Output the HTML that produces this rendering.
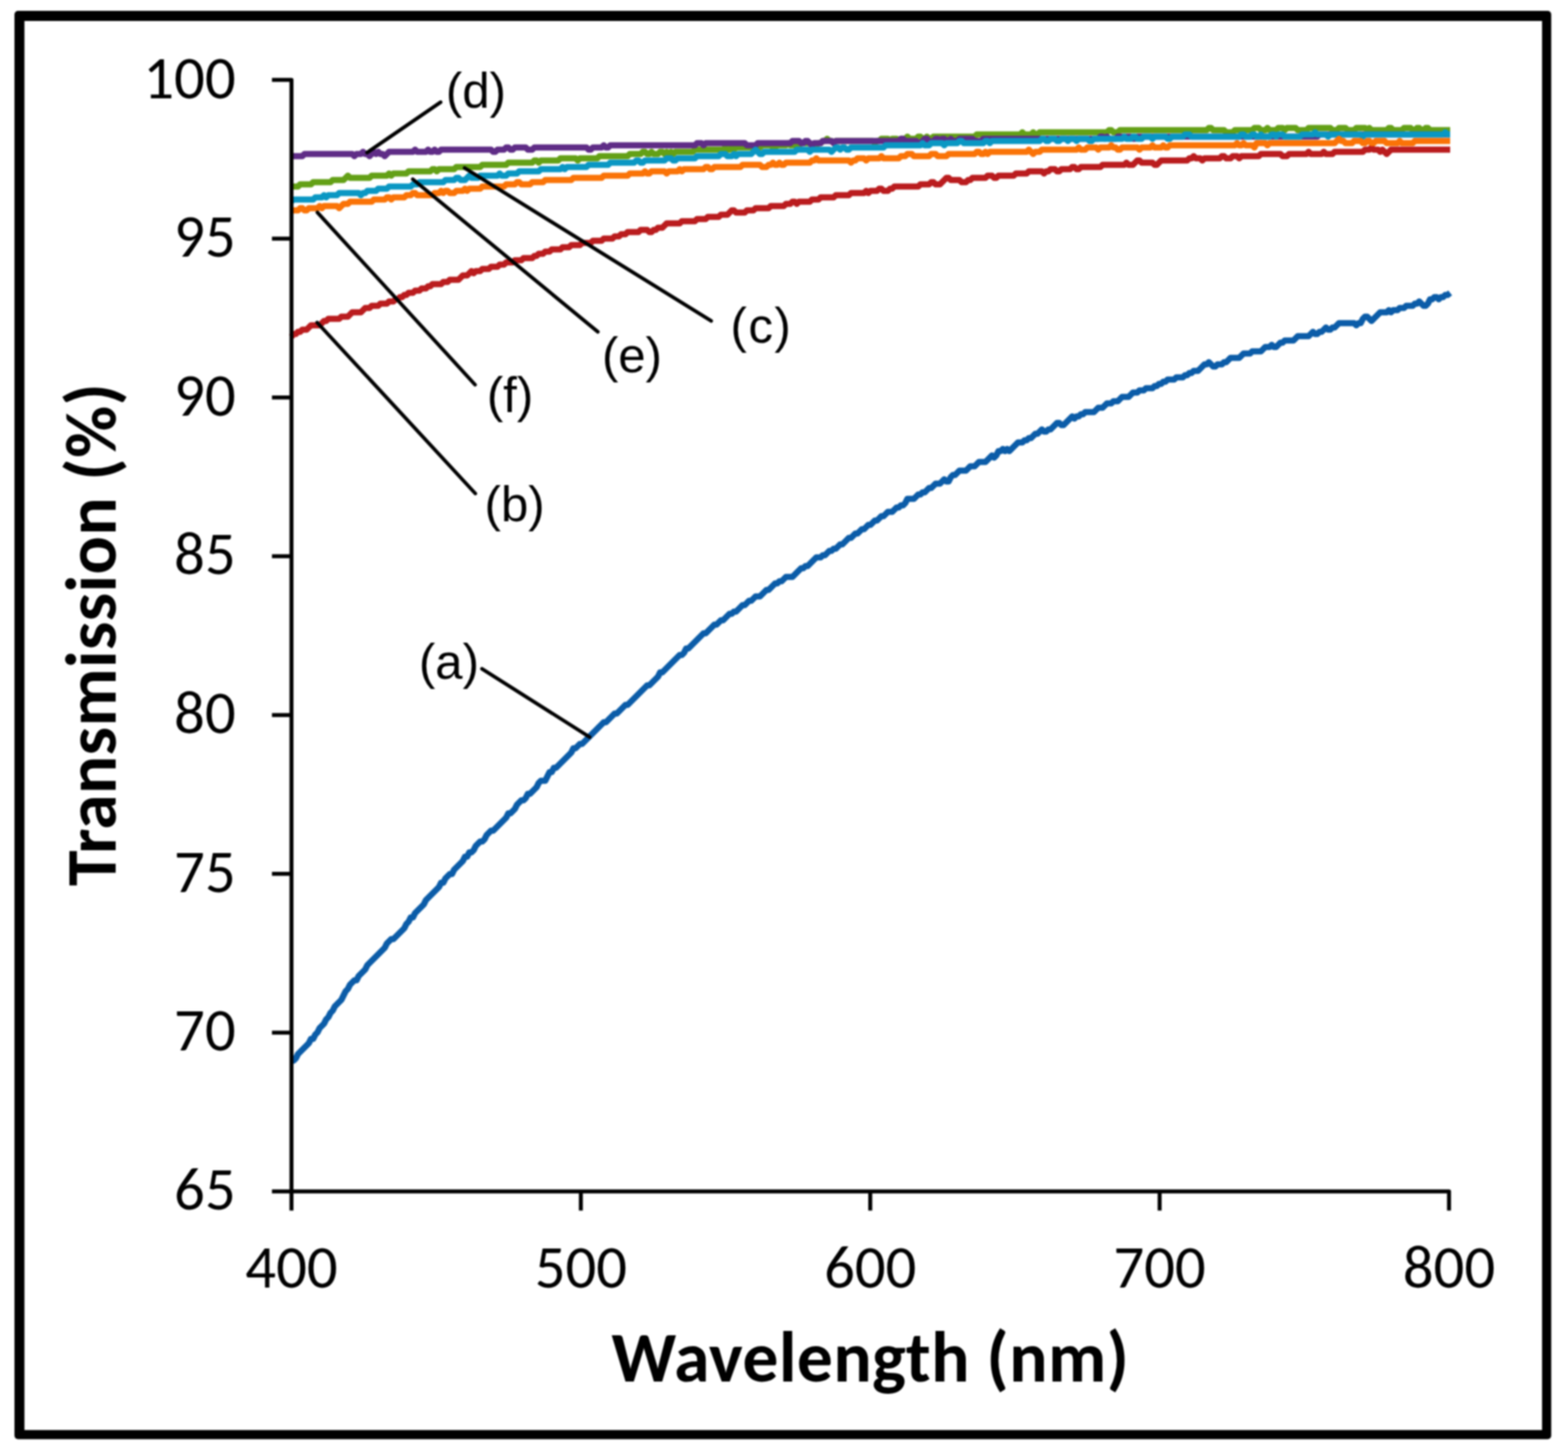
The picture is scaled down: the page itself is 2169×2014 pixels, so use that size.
<!DOCTYPE html>
<html><head><meta charset="utf-8"><title>Transmission vs Wavelength</title>
<style>html,body{margin:0;padding:0;background:#fff;}body{width:2169px;height:2014px;overflow:hidden;}svg{display:block;filter:blur(1px);}</style></head><body>
<svg xmlns="http://www.w3.org/2000/svg" width="2169" height="2014" viewBox="0 0 2169 2014">
<rect x="0" y="0" width="2169" height="2014" fill="#fff"/>
<rect x="20" y="15" width="2125.8" height="1975.8" rx="5" fill="#000"/>
<rect x="33.8" y="29" width="2099.3" height="1949.1" fill="#fff"/>
<path d="M403.2,1467.7L406.2,1467.0L409.2,1464.0L412.2,1458.0L415.2,1455.0L418.2,1452.0L421.2,1449.0L424.2,1446.0L427.2,1443.0L430.2,1437.0L433.2,1437.0L436.2,1431.0L439.2,1428.0L442.2,1422.0L445.2,1419.0L448.2,1416.0L451.2,1410.0L454.2,1407.0L457.2,1401.0L460.2,1398.0L463.2,1392.0L466.2,1389.0L469.2,1386.0L472.2,1383.0L475.2,1377.0L478.2,1371.0L481.2,1368.0L484.2,1362.0L487.2,1359.0L490.2,1356.0L493.2,1356.0L496.2,1350.0L499.2,1347.0L502.2,1344.0L505.2,1341.0L508.2,1335.0L511.2,1332.0L514.2,1329.0L517.2,1326.0L520.2,1323.0L523.2,1320.0L526.2,1317.0L529.2,1314.0L532.2,1311.0L535.2,1305.0L538.2,1302.0L541.2,1299.0L544.2,1299.0L547.2,1296.0L550.2,1293.0L553.2,1290.0L556.2,1287.0L559.2,1284.0L562.2,1278.0L565.2,1275.0L568.2,1269.0L571.2,1269.0L574.2,1263.0L577.2,1260.0L580.2,1257.0L583.2,1254.0L586.2,1251.0L589.2,1245.0L592.2,1242.0L595.2,1239.0L598.2,1236.0L601.2,1233.0L604.2,1230.0L607.2,1227.0L610.2,1221.0L613.2,1221.0L616.2,1215.0L619.2,1212.0L622.2,1209.0L625.2,1209.0L628.2,1203.0L631.2,1200.0L634.2,1197.0L637.2,1194.0L640.2,1191.0L643.2,1185.0L646.2,1185.0L649.2,1179.0L652.2,1179.0L655.2,1176.0L658.2,1170.0L661.2,1167.0L664.2,1164.0L667.2,1164.0L670.2,1161.0L673.2,1155.0L676.2,1152.0L679.2,1149.0L682.2,1149.0L685.2,1146.0L688.2,1143.0L691.2,1140.0L694.2,1137.0L697.2,1134.0L700.2,1131.0L703.2,1125.0L706.2,1125.0L709.2,1122.0L712.2,1119.0L715.2,1113.0L718.2,1110.0L721.2,1107.0L724.2,1107.0L727.2,1104.0L730.2,1098.0L733.2,1098.0L736.2,1095.0L739.2,1092.0L742.2,1089.0L745.2,1083.0L748.2,1080.0L751.2,1080.0L754.2,1080.0L757.2,1074.0L760.2,1068.0L763.2,1068.0L766.2,1062.0L769.2,1062.0L772.2,1059.0L775.2,1056.0L778.2,1053.0L781.2,1050.0L784.2,1047.0L787.2,1044.0L790.2,1041.0L793.2,1035.0L796.2,1035.0L799.2,1032.0L802.2,1029.0L805.2,1029.0L808.2,1026.0L811.2,1023.0L814.2,1020.0L817.2,1017.0L820.2,1014.0L823.2,1011.0L826.2,1008.0L829.2,1005.0L832.2,1002.0L835.2,999.0L838.2,999.0L841.2,996.0L844.2,993.0L847.2,990.0L850.2,987.0L853.2,987.0L856.2,984.0L859.2,981.0L862.2,978.0L865.2,975.0L868.2,975.0L871.2,972.0L874.2,969.0L877.2,966.0L880.2,963.0L883.2,960.0L886.2,957.0L889.2,954.0L892.2,951.0L895.2,948.0L898.2,948.0L901.2,945.0L904.2,942.0L907.2,939.0L910.2,936.0L913.2,930.0L916.2,930.0L919.2,927.0L922.2,924.0L925.2,921.0L928.2,918.0L931.2,915.0L934.2,912.0L937.2,909.0L940.2,906.0L943.2,906.0L946.2,903.0L949.2,897.0L952.2,897.0L955.2,894.0L958.2,891.0L961.2,888.0L964.2,885.0L967.2,882.0L970.2,879.0L973.2,876.0L976.2,876.0L979.2,873.0L982.2,870.0L985.2,867.0L988.2,864.0L991.2,864.0L994.2,861.0L997.2,858.0L1000.2,858.0L1003.2,855.0L1006.2,852.0L1009.2,849.0L1012.2,849.0L1015.2,846.0L1018.2,846.0L1021.2,843.0L1024.2,840.0L1027.2,837.0L1030.2,837.0L1033.2,834.0L1036.2,831.0L1039.2,831.0L1042.2,828.0L1045.2,825.0L1048.2,825.0L1051.2,825.0L1054.2,822.0L1057.2,819.0L1060.2,816.0L1063.2,816.0L1066.2,813.0L1069.2,810.0L1072.2,807.0L1075.2,807.0L1078.2,804.0L1081.2,804.0L1084.2,801.0L1087.2,798.0L1090.2,798.0L1093.2,798.0L1096.2,798.0L1099.2,795.0L1102.2,792.0L1105.2,789.0L1108.2,786.0L1111.2,786.0L1114.2,783.0L1117.2,783.0L1120.2,780.0L1123.2,777.0L1126.2,774.0L1129.2,771.0L1132.2,771.0L1135.2,771.0L1138.2,768.0L1141.2,768.0L1144.2,765.0L1147.2,762.0L1150.2,762.0L1153.2,759.0L1156.2,759.0L1159.2,756.0L1162.2,753.0L1165.2,753.0L1168.2,750.0L1171.2,747.0L1174.2,744.0L1177.2,744.0L1180.2,741.0L1183.2,738.0L1186.2,738.0L1189.2,735.0L1192.2,732.0L1195.2,732.0L1198.2,729.0L1201.2,726.0L1204.2,726.0L1207.2,723.0L1210.2,720.0L1213.2,720.0L1216.2,717.0L1219.2,714.0L1222.2,714.0L1225.2,711.0L1228.2,708.0L1231.2,708.0L1234.2,708.0L1237.2,705.0L1240.2,702.0L1243.2,702.0L1246.2,699.0L1249.2,699.0L1252.2,696.0L1255.2,690.0L1258.2,690.0L1261.2,690.0L1264.2,690.0L1267.2,687.0L1270.2,684.0L1273.2,684.0L1276.2,681.0L1279.2,681.0L1282.2,678.0L1285.2,675.0L1288.2,675.0L1291.2,672.0L1294.2,669.0L1297.2,669.0L1300.2,669.0L1303.2,666.0L1306.2,663.0L1309.2,666.0L1312.2,666.0L1315.2,660.0L1318.2,657.0L1321.2,657.0L1324.2,654.0L1327.2,651.0L1330.2,651.0L1333.2,651.0L1336.2,651.0L1339.2,648.0L1342.2,645.0L1345.2,645.0L1348.2,645.0L1351.2,642.0L1354.2,639.0L1357.2,639.0L1360.2,639.0L1363.2,639.0L1366.2,636.0L1369.2,633.0L1372.2,630.0L1375.2,633.0L1378.2,630.0L1381.2,624.0L1384.2,624.0L1387.2,621.0L1390.2,624.0L1393.2,621.0L1396.2,624.0L1399.2,621.0L1402.2,618.0L1405.2,615.0L1408.2,612.0L1411.2,612.0L1414.2,612.0L1417.2,609.0L1420.2,609.0L1423.2,606.0L1426.2,606.0L1429.2,603.0L1432.2,600.0L1435.2,600.0L1438.2,597.0L1441.2,594.0L1444.2,597.0L1447.2,597.0L1450.2,594.0L1453.2,594.0L1456.2,591.0L1459.2,588.0L1462.2,585.0L1465.2,585.0L1468.2,588.0L1471.2,588.0L1474.2,585.0L1477.2,582.0L1480.2,579.0L1483.2,576.0L1486.2,579.0L1489.2,576.0L1492.2,576.0L1495.2,573.0L1498.2,573.0L1501.2,570.0L1504.2,570.0L1507.2,570.0L1510.2,570.0L1513.2,570.0L1516.2,567.0L1519.2,564.0L1522.2,564.0L1525.2,564.0L1528.2,561.0L1531.2,558.0L1534.2,558.0L1537.2,558.0L1540.2,555.0L1543.2,555.0L1546.2,555.0L1549.2,552.0L1552.2,549.0L1555.2,549.0L1558.2,549.0L1561.2,549.0L1564.2,546.0L1567.2,543.0L1570.2,543.0L1573.2,543.0L1576.2,540.0L1579.2,540.0L1582.2,540.0L1585.2,537.0L1588.2,537.0L1591.2,537.0L1594.2,537.0L1597.2,534.0L1600.2,534.0L1603.2,531.0L1606.2,531.0L1609.2,528.0L1612.2,528.0L1615.2,525.0L1618.2,525.0L1621.2,525.0L1624.2,525.0L1627.2,522.0L1630.2,522.0L1633.2,522.0L1636.2,522.0L1639.2,519.0L1642.2,519.0L1645.2,516.0L1648.2,516.0L1651.2,513.0L1654.2,513.0L1657.2,513.0L1660.2,510.0L1663.2,507.0L1666.2,504.0L1669.2,504.0L1672.2,501.0L1675.2,504.0L1678.2,507.0L1681.2,507.0L1684.2,504.0L1687.2,504.0L1690.2,504.0L1693.2,501.0L1696.2,501.0L1699.2,498.0L1702.2,495.0L1705.2,495.0L1708.2,495.0L1711.2,495.0L1714.2,495.0L1717.2,492.0L1720.2,489.0L1723.2,489.0L1726.2,489.0L1729.2,489.0L1732.2,486.0L1735.2,486.0L1738.2,486.0L1741.2,486.0L1744.2,486.0L1747.2,483.0L1750.2,480.0L1753.2,480.0L1756.2,480.0L1759.2,477.0L1762.2,480.0L1765.2,480.0L1768.2,477.0L1771.2,474.0L1774.2,474.0L1777.2,471.0L1780.2,471.0L1783.2,471.0L1786.2,471.0L1789.2,471.0L1792.2,468.0L1795.2,465.0L1798.2,465.0L1801.2,465.0L1804.2,465.0L1807.2,465.0L1810.2,465.0L1813.2,462.0L1816.2,459.0L1819.2,462.0L1822.2,462.0L1825.2,459.0L1828.2,459.0L1831.2,456.0L1834.2,453.0L1837.2,456.0L1840.2,456.0L1843.2,453.0L1846.2,453.0L1849.2,450.0L1852.2,447.0L1855.2,447.0L1858.2,447.0L1861.2,447.0L1864.2,447.0L1867.2,447.0L1870.2,447.0L1873.2,447.0L1876.2,450.0L1879.2,447.0L1882.2,447.0L1885.2,441.0L1888.2,438.0L1891.2,438.0L1894.2,441.0L1897.2,444.0L1900.2,441.0L1903.2,438.0L1906.2,435.0L1909.2,432.0L1912.2,432.0L1915.2,432.0L1918.2,432.0L1921.2,429.0L1924.2,432.0L1927.2,429.0L1930.2,429.0L1933.2,429.0L1936.2,426.0L1939.2,426.0L1942.2,426.0L1945.2,423.0L1948.2,423.0L1951.2,423.0L1954.2,423.0L1957.2,420.0L1960.2,420.0L1963.2,417.0L1966.2,420.0L1969.2,423.0L1972.2,423.0L1975.2,420.0L1978.2,414.0L1981.2,414.0L1984.2,411.0L1987.2,411.0L1990.2,414.0L1993.2,411.0L1996.2,411.0L1999.2,408.0L2002.2,408.0L2006.0,405.0" fill="none" stroke="#0B5CA8" stroke-width="8.6" stroke-linejoin="round" stroke-linecap="butt"/>
<path d="M403.2,465.9L406.2,462.0L409.2,462.0L412.2,459.0L415.2,459.0L418.2,456.0L421.2,456.0L424.2,456.0L427.2,453.0L430.2,450.0L433.2,450.0L436.2,450.0L439.2,450.0L442.2,450.0L445.2,447.0L448.2,444.0L451.2,444.0L454.2,441.0L457.2,441.0L460.2,441.0L463.2,441.0L466.2,441.0L469.2,441.0L472.2,438.0L475.2,438.0L478.2,438.0L481.2,438.0L484.2,435.0L487.2,432.0L490.2,432.0L493.2,432.0L496.2,432.0L499.2,432.0L502.2,429.0L505.2,426.0L508.2,426.0L511.2,426.0L514.2,423.0L517.2,423.0L520.2,423.0L523.2,423.0L526.2,420.0L529.2,420.0L532.2,420.0L535.2,420.0L538.2,417.0L541.2,417.0L544.2,417.0L547.2,414.0L550.2,414.0L553.2,411.0L556.2,411.0L559.2,408.0L562.2,408.0L565.2,405.0L568.2,405.0L571.2,405.0L574.2,402.0L577.2,402.0L580.2,402.0L583.2,399.0L586.2,399.0L589.2,399.0L592.2,396.0L595.2,396.0L598.2,393.0L601.2,393.0L604.2,393.0L607.2,393.0L610.2,393.0L613.2,390.0L616.2,390.0L619.2,390.0L622.2,387.0L625.2,387.0L628.2,387.0L631.2,387.0L634.2,387.0L637.2,384.0L640.2,381.0L643.2,381.0L646.2,381.0L649.2,378.0L652.2,375.0L655.2,378.0L658.2,375.0L661.2,375.0L664.2,375.0L667.2,372.0L670.2,372.0L673.2,372.0L676.2,372.0L679.2,369.0L682.2,369.0L685.2,369.0L688.2,369.0L691.2,366.0L694.2,366.0L697.2,366.0L700.2,363.0L703.2,363.0L706.2,363.0L709.2,363.0L712.2,360.0L715.2,360.0L718.2,360.0L721.2,360.0L724.2,357.0L727.2,357.0L730.2,357.0L733.2,357.0L736.2,357.0L739.2,354.0L742.2,354.0L745.2,351.0L748.2,351.0L751.2,351.0L754.2,348.0L757.2,348.0L760.2,348.0L763.2,345.0L766.2,345.0L769.2,345.0L772.2,345.0L775.2,345.0L778.2,342.0L781.2,342.0L784.2,342.0L787.2,342.0L790.2,339.0L793.2,339.0L796.2,339.0L799.2,339.0L802.2,339.0L805.2,336.0L808.2,336.0L811.2,336.0L814.2,336.0L817.2,336.0L820.2,333.0L823.2,333.0L826.2,333.0L829.2,333.0L832.2,333.0L835.2,330.0L838.2,330.0L841.2,330.0L844.2,330.0L847.2,330.0L850.2,327.0L853.2,327.0L856.2,327.0L859.2,324.0L862.2,324.0L865.2,324.0L868.2,321.0L871.2,321.0L874.2,321.0L877.2,321.0L880.2,321.0L883.2,321.0L886.2,318.0L889.2,318.0L892.2,318.0L895.2,318.0L898.2,321.0L901.2,321.0L904.2,318.0L907.2,318.0L910.2,315.0L913.2,315.0L916.2,315.0L919.2,312.0L922.2,309.0L925.2,309.0L928.2,309.0L931.2,309.0L934.2,309.0L937.2,309.0L940.2,309.0L943.2,306.0L946.2,306.0L949.2,306.0L952.2,306.0L955.2,306.0L958.2,306.0L961.2,306.0L964.2,303.0L967.2,303.0L970.2,303.0L973.2,303.0L976.2,303.0L979.2,300.0L982.2,300.0L985.2,300.0L988.2,300.0L991.2,300.0L994.2,300.0L997.2,297.0L1000.2,297.0L1003.2,297.0L1006.2,297.0L1009.2,294.0L1012.2,291.0L1015.2,291.0L1018.2,294.0L1021.2,294.0L1024.2,294.0L1027.2,294.0L1030.2,294.0L1033.2,291.0L1036.2,291.0L1039.2,291.0L1042.2,291.0L1045.2,288.0L1048.2,288.0L1051.2,288.0L1054.2,288.0L1057.2,288.0L1060.2,288.0L1063.2,288.0L1066.2,285.0L1069.2,285.0L1072.2,285.0L1075.2,285.0L1078.2,285.0L1081.2,285.0L1084.2,285.0L1087.2,282.0L1090.2,282.0L1093.2,282.0L1096.2,279.0L1099.2,279.0L1102.2,282.0L1105.2,279.0L1108.2,279.0L1111.2,279.0L1114.2,279.0L1117.2,279.0L1120.2,279.0L1123.2,276.0L1126.2,276.0L1129.2,276.0L1132.2,276.0L1135.2,273.0L1138.2,273.0L1141.2,273.0L1144.2,273.0L1147.2,273.0L1150.2,273.0L1153.2,273.0L1156.2,270.0L1159.2,270.0L1162.2,270.0L1165.2,270.0L1168.2,270.0L1171.2,270.0L1174.2,270.0L1177.2,267.0L1180.2,267.0L1183.2,267.0L1186.2,267.0L1189.2,267.0L1192.2,267.0L1195.2,267.0L1198.2,264.0L1201.2,267.0L1204.2,264.0L1207.2,264.0L1210.2,264.0L1213.2,264.0L1216.2,261.0L1219.2,261.0L1222.2,264.0L1225.2,264.0L1228.2,264.0L1231.2,261.0L1234.2,261.0L1237.2,258.0L1240.2,258.0L1243.2,258.0L1246.2,258.0L1249.2,258.0L1252.2,258.0L1255.2,258.0L1258.2,258.0L1261.2,258.0L1264.2,258.0L1267.2,258.0L1270.2,258.0L1273.2,255.0L1276.2,255.0L1279.2,255.0L1282.2,255.0L1285.2,255.0L1288.2,252.0L1291.2,252.0L1294.2,255.0L1297.2,255.0L1300.2,255.0L1303.2,252.0L1306.2,249.0L1309.2,246.0L1312.2,246.0L1315.2,249.0L1318.2,249.0L1321.2,249.0L1324.2,249.0L1327.2,249.0L1330.2,252.0L1333.2,252.0L1336.2,252.0L1339.2,249.0L1342.2,249.0L1345.2,246.0L1348.2,246.0L1351.2,246.0L1354.2,246.0L1357.2,246.0L1360.2,246.0L1363.2,246.0L1366.2,243.0L1369.2,243.0L1372.2,243.0L1375.2,246.0L1378.2,246.0L1381.2,243.0L1384.2,243.0L1387.2,243.0L1390.2,243.0L1393.2,243.0L1396.2,243.0L1399.2,243.0L1402.2,243.0L1405.2,240.0L1408.2,240.0L1411.2,240.0L1414.2,240.0L1417.2,240.0L1420.2,240.0L1423.2,237.0L1426.2,237.0L1429.2,237.0L1432.2,237.0L1435.2,237.0L1438.2,237.0L1441.2,237.0L1444.2,240.0L1447.2,237.0L1450.2,237.0L1453.2,234.0L1456.2,234.0L1459.2,234.0L1462.2,237.0L1465.2,237.0L1468.2,234.0L1471.2,234.0L1474.2,234.0L1477.2,234.0L1480.2,234.0L1483.2,231.0L1486.2,231.0L1489.2,234.0L1492.2,234.0L1495.2,231.0L1498.2,231.0L1501.2,231.0L1504.2,231.0L1507.2,231.0L1510.2,231.0L1513.2,231.0L1516.2,231.0L1519.2,231.0L1522.2,231.0L1525.2,228.0L1528.2,228.0L1531.2,228.0L1534.2,228.0L1537.2,228.0L1540.2,228.0L1543.2,228.0L1546.2,228.0L1549.2,228.0L1552.2,228.0L1555.2,228.0L1558.2,225.0L1561.2,228.0L1564.2,228.0L1567.2,228.0L1570.2,225.0L1573.2,222.0L1576.2,222.0L1579.2,225.0L1582.2,225.0L1585.2,225.0L1588.2,225.0L1591.2,225.0L1594.2,225.0L1597.2,228.0L1600.2,228.0L1603.2,225.0L1606.2,222.0L1609.2,222.0L1612.2,222.0L1615.2,222.0L1618.2,222.0L1621.2,222.0L1624.2,222.0L1627.2,222.0L1630.2,222.0L1633.2,222.0L1636.2,222.0L1639.2,222.0L1642.2,222.0L1645.2,219.0L1648.2,219.0L1651.2,216.0L1654.2,219.0L1657.2,219.0L1660.2,219.0L1663.2,222.0L1666.2,219.0L1669.2,219.0L1672.2,219.0L1675.2,219.0L1678.2,219.0L1681.2,219.0L1684.2,219.0L1687.2,219.0L1690.2,216.0L1693.2,216.0L1696.2,219.0L1699.2,219.0L1702.2,219.0L1705.2,216.0L1708.2,216.0L1711.2,216.0L1714.2,219.0L1717.2,216.0L1720.2,216.0L1723.2,216.0L1726.2,216.0L1729.2,216.0L1732.2,216.0L1735.2,216.0L1738.2,216.0L1741.2,216.0L1744.2,213.0L1747.2,213.0L1750.2,213.0L1753.2,213.0L1756.2,213.0L1759.2,213.0L1762.2,213.0L1765.2,213.0L1768.2,213.0L1771.2,213.0L1774.2,216.0L1777.2,216.0L1780.2,216.0L1783.2,213.0L1786.2,213.0L1789.2,213.0L1792.2,213.0L1795.2,213.0L1798.2,213.0L1801.2,213.0L1804.2,213.0L1807.2,213.0L1810.2,210.0L1813.2,213.0L1816.2,213.0L1819.2,213.0L1822.2,213.0L1825.2,213.0L1828.2,213.0L1831.2,210.0L1834.2,213.0L1837.2,213.0L1840.2,213.0L1843.2,213.0L1846.2,210.0L1849.2,210.0L1852.2,210.0L1855.2,210.0L1858.2,210.0L1861.2,210.0L1864.2,210.0L1867.2,210.0L1870.2,210.0L1873.2,210.0L1876.2,210.0L1879.2,210.0L1882.2,210.0L1885.2,210.0L1888.2,207.0L1891.2,207.0L1894.2,207.0L1897.2,204.0L1900.2,207.0L1903.2,207.0L1906.2,207.0L1909.2,210.0L1912.2,207.0L1915.2,210.0L1918.2,213.0L1921.2,210.0L1924.2,207.0L1927.2,207.0L1930.2,207.0L1933.2,207.0L1936.2,207.0L1939.2,207.0L1942.2,207.0L1945.2,207.0L1948.2,207.0L1951.2,207.0L1954.2,207.0L1957.2,207.0L1960.2,207.0L1963.2,207.0L1966.2,207.0L1969.2,207.0L1972.2,207.0L1975.2,207.0L1978.2,207.0L1981.2,207.0L1984.2,207.0L1987.2,207.0L1990.2,207.0L1993.2,207.0L1996.2,207.0L1999.2,207.0L2002.2,207.0L2006.0,207.0" fill="none" stroke="#BA1C1E" stroke-width="8.6" stroke-linejoin="round" stroke-linecap="butt"/>
<path d="M403.2,258.0L406.2,258.0L409.2,258.0L412.2,258.0L415.2,255.0L418.2,255.0L421.2,255.0L424.2,255.0L427.2,255.0L430.2,255.0L433.2,252.0L436.2,252.0L439.2,252.0L442.2,252.0L445.2,252.0L448.2,252.0L451.2,252.0L454.2,252.0L457.2,252.0L460.2,249.0L463.2,249.0L466.2,249.0L469.2,249.0L472.2,249.0L475.2,249.0L478.2,246.0L481.2,243.0L484.2,246.0L487.2,246.0L490.2,246.0L493.2,246.0L496.2,246.0L499.2,246.0L502.2,246.0L505.2,246.0L508.2,246.0L511.2,246.0L514.2,243.0L517.2,243.0L520.2,243.0L523.2,243.0L526.2,243.0L529.2,243.0L532.2,243.0L535.2,243.0L538.2,240.0L541.2,243.0L544.2,240.0L547.2,240.0L550.2,240.0L553.2,240.0L556.2,240.0L559.2,240.0L562.2,240.0L565.2,237.0L568.2,237.0L571.2,237.0L574.2,237.0L577.2,237.0L580.2,237.0L583.2,237.0L586.2,237.0L589.2,237.0L592.2,237.0L595.2,237.0L598.2,234.0L601.2,234.0L604.2,237.0L607.2,234.0L610.2,234.0L613.2,234.0L616.2,234.0L619.2,234.0L622.2,234.0L625.2,234.0L628.2,234.0L631.2,231.0L634.2,231.0L637.2,231.0L640.2,231.0L643.2,231.0L646.2,231.0L649.2,231.0L652.2,231.0L655.2,231.0L658.2,231.0L661.2,231.0L664.2,231.0L667.2,228.0L670.2,228.0L673.2,228.0L676.2,228.0L679.2,228.0L682.2,228.0L685.2,228.0L688.2,228.0L691.2,228.0L694.2,228.0L697.2,228.0L700.2,228.0L703.2,225.0L706.2,225.0L709.2,225.0L712.2,225.0L715.2,225.0L718.2,225.0L721.2,225.0L724.2,225.0L727.2,225.0L730.2,225.0L733.2,225.0L736.2,225.0L739.2,222.0L742.2,222.0L745.2,225.0L748.2,222.0L751.2,222.0L754.2,222.0L757.2,222.0L760.2,222.0L763.2,222.0L766.2,222.0L769.2,222.0L772.2,222.0L775.2,219.0L778.2,219.0L781.2,219.0L784.2,219.0L787.2,219.0L790.2,219.0L793.2,219.0L796.2,219.0L799.2,222.0L802.2,219.0L805.2,219.0L808.2,219.0L811.2,219.0L814.2,219.0L817.2,219.0L820.2,219.0L823.2,219.0L826.2,219.0L829.2,216.0L832.2,216.0L835.2,216.0L838.2,216.0L841.2,216.0L844.2,216.0L847.2,216.0L850.2,216.0L853.2,216.0L856.2,216.0L859.2,216.0L862.2,216.0L865.2,216.0L868.2,216.0L871.2,213.0L874.2,213.0L877.2,213.0L880.2,213.0L883.2,213.0L886.2,213.0L889.2,210.0L892.2,210.0L895.2,213.0L898.2,213.0L901.2,210.0L904.2,213.0L907.2,213.0L910.2,213.0L913.2,210.0L916.2,210.0L919.2,213.0L922.2,210.0L925.2,213.0L928.2,210.0L931.2,213.0L934.2,210.0L937.2,210.0L940.2,210.0L943.2,210.0L946.2,210.0L949.2,210.0L952.2,210.0L955.2,210.0L958.2,210.0L961.2,207.0L964.2,207.0L967.2,207.0L970.2,207.0L973.2,207.0L976.2,207.0L979.2,207.0L982.2,207.0L985.2,207.0L988.2,207.0L991.2,207.0L994.2,207.0L997.2,207.0L1000.2,207.0L1003.2,204.0L1006.2,207.0L1009.2,207.0L1012.2,204.0L1015.2,207.0L1018.2,204.0L1021.2,204.0L1024.2,204.0L1027.2,204.0L1030.2,204.0L1033.2,204.0L1036.2,204.0L1039.2,204.0L1042.2,204.0L1045.2,204.0L1048.2,204.0L1051.2,204.0L1054.2,201.0L1057.2,201.0L1060.2,201.0L1063.2,201.0L1066.2,201.0L1069.2,204.0L1072.2,204.0L1075.2,201.0L1078.2,201.0L1081.2,201.0L1084.2,201.0L1087.2,201.0L1090.2,198.0L1093.2,201.0L1096.2,201.0L1099.2,201.0L1102.2,201.0L1105.2,201.0L1108.2,198.0L1111.2,198.0L1114.2,198.0L1117.2,198.0L1120.2,198.0L1123.2,201.0L1126.2,201.0L1129.2,201.0L1132.2,198.0L1135.2,198.0L1138.2,195.0L1141.2,195.0L1144.2,192.0L1147.2,195.0L1150.2,195.0L1153.2,198.0L1156.2,195.0L1159.2,195.0L1162.2,195.0L1165.2,195.0L1168.2,195.0L1171.2,195.0L1174.2,195.0L1177.2,195.0L1180.2,195.0L1183.2,195.0L1186.2,195.0L1189.2,195.0L1192.2,195.0L1195.2,195.0L1198.2,195.0L1201.2,195.0L1204.2,195.0L1207.2,195.0L1210.2,198.0L1213.2,195.0L1216.2,195.0L1219.2,192.0L1222.2,192.0L1225.2,192.0L1228.2,192.0L1231.2,195.0L1234.2,192.0L1237.2,192.0L1240.2,192.0L1243.2,195.0L1246.2,192.0L1249.2,192.0L1252.2,192.0L1255.2,189.0L1258.2,192.0L1261.2,192.0L1264.2,192.0L1267.2,192.0L1270.2,189.0L1273.2,189.0L1276.2,192.0L1279.2,192.0L1282.2,189.0L1285.2,192.0L1288.2,192.0L1291.2,189.0L1294.2,189.0L1297.2,189.0L1300.2,189.0L1303.2,189.0L1306.2,189.0L1309.2,189.0L1312.2,189.0L1315.2,189.0L1318.2,189.0L1321.2,189.0L1324.2,189.0L1327.2,189.0L1330.2,189.0L1333.2,189.0L1336.2,189.0L1339.2,189.0L1342.2,189.0L1345.2,189.0L1348.2,189.0L1351.2,186.0L1354.2,186.0L1357.2,186.0L1360.2,186.0L1363.2,186.0L1366.2,186.0L1369.2,186.0L1372.2,186.0L1375.2,186.0L1378.2,186.0L1381.2,186.0L1384.2,186.0L1387.2,186.0L1390.2,186.0L1393.2,186.0L1396.2,186.0L1399.2,186.0L1402.2,186.0L1405.2,186.0L1408.2,186.0L1411.2,186.0L1414.2,183.0L1417.2,186.0L1420.2,186.0L1423.2,186.0L1426.2,186.0L1429.2,183.0L1432.2,186.0L1435.2,186.0L1438.2,183.0L1441.2,183.0L1444.2,183.0L1447.2,183.0L1450.2,183.0L1453.2,183.0L1456.2,183.0L1459.2,183.0L1462.2,183.0L1465.2,183.0L1468.2,183.0L1471.2,183.0L1474.2,183.0L1477.2,183.0L1480.2,183.0L1483.2,183.0L1486.2,183.0L1489.2,183.0L1492.2,183.0L1495.2,183.0L1498.2,183.0L1501.2,183.0L1504.2,183.0L1507.2,183.0L1510.2,183.0L1513.2,183.0L1516.2,183.0L1519.2,183.0L1522.2,183.0L1525.2,183.0L1528.2,183.0L1531.2,183.0L1534.2,180.0L1537.2,180.0L1540.2,183.0L1543.2,183.0L1546.2,183.0L1549.2,180.0L1552.2,180.0L1555.2,180.0L1558.2,180.0L1561.2,180.0L1564.2,180.0L1567.2,180.0L1570.2,180.0L1573.2,180.0L1576.2,180.0L1579.2,180.0L1582.2,180.0L1585.2,180.0L1588.2,180.0L1591.2,180.0L1594.2,180.0L1597.2,180.0L1600.2,180.0L1603.2,180.0L1606.2,180.0L1609.2,180.0L1612.2,180.0L1615.2,180.0L1618.2,180.0L1621.2,180.0L1624.2,180.0L1627.2,180.0L1630.2,180.0L1633.2,180.0L1636.2,180.0L1639.2,180.0L1642.2,180.0L1645.2,180.0L1648.2,180.0L1651.2,180.0L1654.2,180.0L1657.2,180.0L1660.2,180.0L1663.2,180.0L1666.2,180.0L1669.2,180.0L1672.2,177.0L1675.2,177.0L1678.2,180.0L1681.2,180.0L1684.2,180.0L1687.2,180.0L1690.2,180.0L1693.2,180.0L1696.2,183.0L1699.2,183.0L1702.2,183.0L1705.2,183.0L1708.2,180.0L1711.2,180.0L1714.2,180.0L1717.2,180.0L1720.2,180.0L1723.2,180.0L1726.2,180.0L1729.2,180.0L1732.2,180.0L1735.2,177.0L1738.2,177.0L1741.2,177.0L1744.2,180.0L1747.2,180.0L1750.2,180.0L1753.2,177.0L1756.2,180.0L1759.2,180.0L1762.2,180.0L1765.2,180.0L1768.2,177.0L1771.2,177.0L1774.2,177.0L1777.2,180.0L1780.2,177.0L1783.2,177.0L1786.2,177.0L1789.2,177.0L1792.2,177.0L1795.2,180.0L1798.2,180.0L1801.2,180.0L1804.2,180.0L1807.2,180.0L1810.2,177.0L1813.2,177.0L1816.2,177.0L1819.2,177.0L1822.2,177.0L1825.2,177.0L1828.2,177.0L1831.2,177.0L1834.2,177.0L1837.2,177.0L1840.2,177.0L1843.2,180.0L1846.2,180.0L1849.2,180.0L1852.2,177.0L1855.2,177.0L1858.2,177.0L1861.2,177.0L1864.2,180.0L1867.2,180.0L1870.2,180.0L1873.2,180.0L1876.2,177.0L1879.2,177.0L1882.2,177.0L1885.2,177.0L1888.2,177.0L1891.2,180.0L1894.2,177.0L1897.2,180.0L1900.2,180.0L1903.2,180.0L1906.2,180.0L1909.2,180.0L1912.2,180.0L1915.2,180.0L1918.2,180.0L1921.2,177.0L1924.2,177.0L1927.2,180.0L1930.2,180.0L1933.2,180.0L1936.2,180.0L1939.2,180.0L1942.2,177.0L1945.2,177.0L1948.2,177.0L1951.2,177.0L1954.2,180.0L1957.2,180.0L1960.2,177.0L1963.2,177.0L1966.2,180.0L1969.2,180.0L1972.2,177.0L1975.2,177.0L1978.2,180.0L1981.2,180.0L1984.2,180.0L1987.2,180.0L1990.2,180.0L1993.2,180.0L1996.2,180.0L1999.2,180.0L2002.2,180.0L2006.0,180.0" fill="none" stroke="#63A016" stroke-width="8.6" stroke-linejoin="round" stroke-linecap="butt"/>
<path d="M403.2,215.1L406.2,216.0L409.2,216.0L412.2,216.0L415.2,216.0L418.2,216.0L421.2,213.0L424.2,213.0L427.2,213.0L430.2,213.0L433.2,213.0L436.2,213.0L439.2,213.0L442.2,213.0L445.2,213.0L448.2,213.0L451.2,213.0L454.2,213.0L457.2,213.0L460.2,213.0L463.2,213.0L466.2,213.0L469.2,213.0L472.2,213.0L475.2,213.0L478.2,213.0L481.2,213.0L484.2,213.0L487.2,213.0L490.2,216.0L493.2,213.0L496.2,213.0L499.2,213.0L502.2,210.0L505.2,213.0L508.2,213.0L511.2,216.0L514.2,213.0L517.2,210.0L520.2,213.0L523.2,210.0L526.2,213.0L529.2,213.0L532.2,216.0L535.2,213.0L538.2,210.0L541.2,210.0L544.2,210.0L547.2,210.0L550.2,210.0L553.2,210.0L556.2,210.0L559.2,210.0L562.2,210.0L565.2,210.0L568.2,210.0L571.2,210.0L574.2,207.0L577.2,210.0L580.2,210.0L583.2,210.0L586.2,210.0L589.2,210.0L592.2,207.0L595.2,210.0L598.2,210.0L601.2,207.0L604.2,210.0L607.2,210.0L610.2,207.0L613.2,207.0L616.2,207.0L619.2,207.0L622.2,207.0L625.2,207.0L628.2,207.0L631.2,207.0L634.2,207.0L637.2,207.0L640.2,207.0L643.2,207.0L646.2,207.0L649.2,207.0L652.2,207.0L655.2,207.0L658.2,207.0L661.2,207.0L664.2,207.0L667.2,207.0L670.2,207.0L673.2,207.0L676.2,207.0L679.2,207.0L682.2,210.0L685.2,210.0L688.2,207.0L691.2,207.0L694.2,207.0L697.2,207.0L700.2,204.0L703.2,204.0L706.2,207.0L709.2,207.0L712.2,204.0L715.2,204.0L718.2,204.0L721.2,204.0L724.2,204.0L727.2,204.0L730.2,207.0L733.2,207.0L736.2,207.0L739.2,204.0L742.2,204.0L745.2,204.0L748.2,204.0L751.2,204.0L754.2,204.0L757.2,204.0L760.2,204.0L763.2,204.0L766.2,204.0L769.2,204.0L772.2,204.0L775.2,204.0L778.2,204.0L781.2,204.0L784.2,204.0L787.2,204.0L790.2,204.0L793.2,204.0L796.2,204.0L799.2,204.0L802.2,204.0L805.2,204.0L808.2,204.0L811.2,204.0L814.2,207.0L817.2,207.0L820.2,204.0L823.2,204.0L826.2,204.0L829.2,204.0L832.2,204.0L835.2,201.0L838.2,204.0L841.2,204.0L844.2,201.0L847.2,201.0L850.2,201.0L853.2,201.0L856.2,201.0L859.2,201.0L862.2,201.0L865.2,201.0L868.2,201.0L871.2,201.0L874.2,201.0L877.2,201.0L880.2,201.0L883.2,201.0L886.2,201.0L889.2,201.0L892.2,201.0L895.2,201.0L898.2,201.0L901.2,201.0L904.2,201.0L907.2,201.0L910.2,201.0L913.2,201.0L916.2,201.0L919.2,201.0L922.2,201.0L925.2,201.0L928.2,201.0L931.2,201.0L934.2,201.0L937.2,201.0L940.2,201.0L943.2,201.0L946.2,201.0L949.2,201.0L952.2,201.0L955.2,201.0L958.2,201.0L961.2,201.0L964.2,198.0L967.2,198.0L970.2,198.0L973.2,201.0L976.2,198.0L979.2,198.0L982.2,198.0L985.2,198.0L988.2,198.0L991.2,198.0L994.2,198.0L997.2,198.0L1000.2,198.0L1003.2,198.0L1006.2,198.0L1009.2,198.0L1012.2,198.0L1015.2,198.0L1018.2,198.0L1021.2,198.0L1024.2,198.0L1027.2,198.0L1030.2,198.0L1033.2,201.0L1036.2,201.0L1039.2,201.0L1042.2,201.0L1045.2,201.0L1048.2,198.0L1051.2,198.0L1054.2,198.0L1057.2,198.0L1060.2,198.0L1063.2,198.0L1066.2,198.0L1069.2,198.0L1072.2,198.0L1075.2,198.0L1078.2,198.0L1081.2,198.0L1084.2,198.0L1087.2,198.0L1090.2,198.0L1093.2,198.0L1096.2,195.0L1099.2,195.0L1102.2,195.0L1105.2,195.0L1108.2,198.0L1111.2,198.0L1114.2,195.0L1117.2,195.0L1120.2,198.0L1123.2,201.0L1126.2,198.0L1129.2,198.0L1132.2,198.0L1135.2,198.0L1138.2,195.0L1141.2,195.0L1144.2,195.0L1147.2,195.0L1150.2,195.0L1153.2,198.0L1156.2,195.0L1159.2,195.0L1162.2,195.0L1165.2,195.0L1168.2,195.0L1171.2,195.0L1174.2,195.0L1177.2,195.0L1180.2,195.0L1183.2,195.0L1186.2,195.0L1189.2,195.0L1192.2,195.0L1195.2,195.0L1198.2,195.0L1201.2,195.0L1204.2,195.0L1207.2,195.0L1210.2,195.0L1213.2,195.0L1216.2,195.0L1219.2,195.0L1222.2,195.0L1225.2,195.0L1228.2,195.0L1231.2,195.0L1234.2,195.0L1237.2,195.0L1240.2,195.0L1243.2,195.0L1246.2,192.0L1249.2,192.0L1252.2,195.0L1255.2,195.0L1258.2,195.0L1261.2,195.0L1264.2,195.0L1267.2,195.0L1270.2,198.0L1273.2,198.0L1276.2,195.0L1279.2,192.0L1282.2,192.0L1285.2,195.0L1288.2,198.0L1291.2,195.0L1294.2,192.0L1297.2,192.0L1300.2,195.0L1303.2,192.0L1306.2,192.0L1309.2,195.0L1312.2,195.0L1315.2,192.0L1318.2,195.0L1321.2,195.0L1324.2,195.0L1327.2,192.0L1330.2,192.0L1333.2,192.0L1336.2,192.0L1339.2,192.0L1342.2,192.0L1345.2,192.0L1348.2,195.0L1351.2,195.0L1354.2,195.0L1357.2,195.0L1360.2,192.0L1363.2,192.0L1366.2,192.0L1369.2,192.0L1372.2,192.0L1375.2,192.0L1378.2,192.0L1381.2,192.0L1384.2,192.0L1387.2,192.0L1390.2,192.0L1393.2,192.0L1396.2,192.0L1399.2,192.0L1402.2,192.0L1405.2,192.0L1408.2,192.0L1411.2,192.0L1414.2,192.0L1417.2,192.0L1420.2,192.0L1423.2,192.0L1426.2,192.0L1429.2,192.0L1432.2,192.0L1435.2,192.0L1438.2,192.0L1441.2,192.0L1444.2,192.0L1447.2,192.0L1450.2,192.0L1453.2,192.0L1456.2,192.0L1459.2,192.0L1462.2,192.0L1465.2,192.0L1468.2,192.0L1471.2,192.0L1474.2,192.0L1477.2,192.0L1480.2,192.0L1483.2,192.0L1486.2,192.0L1489.2,192.0L1492.2,192.0L1495.2,192.0L1498.2,192.0L1501.2,192.0L1504.2,192.0L1507.2,192.0L1510.2,192.0L1513.2,192.0L1516.2,192.0L1519.2,192.0L1522.2,189.0L1525.2,189.0L1528.2,192.0L1531.2,189.0L1534.2,192.0L1537.2,192.0L1540.2,192.0L1543.2,192.0L1546.2,189.0L1549.2,189.0L1552.2,189.0L1555.2,189.0L1558.2,189.0L1561.2,189.0L1564.2,189.0L1567.2,192.0L1570.2,192.0L1573.2,189.0L1576.2,189.0L1579.2,189.0L1582.2,189.0L1585.2,189.0L1588.2,189.0L1591.2,189.0L1594.2,189.0L1597.2,189.0L1600.2,189.0L1603.2,189.0L1606.2,189.0L1609.2,189.0L1612.2,189.0L1615.2,189.0L1618.2,189.0L1621.2,189.0L1624.2,189.0L1627.2,189.0L1630.2,189.0L1633.2,189.0L1636.2,189.0L1639.2,189.0L1642.2,189.0L1645.2,189.0L1648.2,189.0L1651.2,189.0L1654.2,189.0L1657.2,189.0L1660.2,189.0L1663.2,189.0L1666.2,189.0L1669.2,189.0L1672.2,189.0L1675.2,189.0L1678.2,189.0L1681.2,189.0L1684.2,189.0L1687.2,189.0L1690.2,189.0L1693.2,189.0L1696.2,189.0L1699.2,189.0L1702.2,189.0L1705.2,189.0L1708.2,189.0L1711.2,189.0L1714.2,189.0L1717.2,189.0L1720.2,189.0L1723.2,189.0L1726.2,189.0L1729.2,189.0L1732.2,189.0L1735.2,189.0L1738.2,189.0L1741.2,189.0L1744.2,189.0L1747.2,189.0L1750.2,189.0L1753.2,189.0L1756.2,189.0L1759.2,189.0L1762.2,189.0L1765.2,189.0L1768.2,189.0L1771.2,189.0L1774.2,189.0L1777.2,189.0L1780.2,189.0L1783.2,189.0L1786.2,189.0L1789.2,189.0L1792.2,189.0L1795.2,189.0L1798.2,189.0L1801.2,189.0L1804.2,189.0L1807.2,189.0L1810.2,189.0L1813.2,189.0L1816.2,189.0L1819.2,189.0L1822.2,189.0L1825.2,186.0L1828.2,186.0L1831.2,186.0L1834.2,186.0L1837.2,186.0L1840.2,186.0L1843.2,186.0L1846.2,186.0L1849.2,186.0L1852.2,186.0L1855.2,186.0L1858.2,186.0L1861.2,186.0L1864.2,186.0L1867.2,186.0L1870.2,186.0L1873.2,186.0L1876.2,186.0L1879.2,186.0L1882.2,186.0L1885.2,186.0L1888.2,186.0L1891.2,186.0L1894.2,186.0L1897.2,186.0L1900.2,186.0L1903.2,186.0L1906.2,186.0L1909.2,186.0L1912.2,186.0L1915.2,186.0L1918.2,186.0L1921.2,186.0L1924.2,186.0L1927.2,186.0L1930.2,186.0L1933.2,186.0L1936.2,186.0L1939.2,186.0L1942.2,186.0L1945.2,186.0L1948.2,186.0L1951.2,186.0L1954.2,186.0L1957.2,186.0L1960.2,186.0L1963.2,186.0L1966.2,186.0L1969.2,186.0L1972.2,186.0L1975.2,186.0L1978.2,186.0L1981.2,186.0L1984.2,186.0L1987.2,186.0L1990.2,186.0L1993.2,186.0L1996.2,186.0L1999.2,186.0L2002.2,186.0L2006.0,186.0" fill="none" stroke="#5F2C86" stroke-width="8.6" stroke-linejoin="round" stroke-linecap="butt"/>
<path d="M403.2,278.3L406.2,276.0L409.2,276.0L412.2,276.0L415.2,276.0L418.2,276.0L421.2,276.0L424.2,276.0L427.2,276.0L430.2,276.0L433.2,276.0L436.2,273.0L439.2,273.0L442.2,273.0L445.2,273.0L448.2,270.0L451.2,273.0L454.2,270.0L457.2,270.0L460.2,270.0L463.2,270.0L466.2,270.0L469.2,267.0L472.2,267.0L475.2,267.0L478.2,267.0L481.2,267.0L484.2,267.0L487.2,267.0L490.2,267.0L493.2,267.0L496.2,267.0L499.2,270.0L502.2,267.0L505.2,267.0L508.2,264.0L511.2,264.0L514.2,264.0L517.2,264.0L520.2,264.0L523.2,261.0L526.2,261.0L529.2,261.0L532.2,261.0L535.2,261.0L538.2,258.0L541.2,258.0L544.2,258.0L547.2,258.0L550.2,258.0L553.2,258.0L556.2,258.0L559.2,258.0L562.2,258.0L565.2,258.0L568.2,258.0L571.2,255.0L574.2,255.0L577.2,255.0L580.2,252.0L583.2,252.0L586.2,252.0L589.2,252.0L592.2,252.0L595.2,252.0L598.2,252.0L601.2,252.0L604.2,252.0L607.2,252.0L610.2,252.0L613.2,252.0L616.2,249.0L619.2,249.0L622.2,249.0L625.2,249.0L628.2,249.0L631.2,246.0L634.2,246.0L637.2,249.0L640.2,249.0L643.2,249.0L646.2,246.0L649.2,243.0L652.2,246.0L655.2,246.0L658.2,246.0L661.2,246.0L664.2,243.0L667.2,243.0L670.2,243.0L673.2,243.0L676.2,243.0L679.2,243.0L682.2,243.0L685.2,243.0L688.2,243.0L691.2,240.0L694.2,243.0L697.2,243.0L700.2,243.0L703.2,240.0L706.2,240.0L709.2,240.0L712.2,240.0L715.2,240.0L718.2,237.0L721.2,237.0L724.2,237.0L727.2,237.0L730.2,237.0L733.2,237.0L736.2,237.0L739.2,237.0L742.2,237.0L745.2,237.0L748.2,234.0L751.2,234.0L754.2,234.0L757.2,234.0L760.2,234.0L763.2,234.0L766.2,234.0L769.2,234.0L772.2,234.0L775.2,234.0L778.2,231.0L781.2,234.0L784.2,231.0L787.2,231.0L790.2,231.0L793.2,231.0L796.2,231.0L799.2,231.0L802.2,231.0L805.2,231.0L808.2,231.0L811.2,231.0L814.2,228.0L817.2,228.0L820.2,228.0L823.2,228.0L826.2,228.0L829.2,228.0L832.2,228.0L835.2,228.0L838.2,228.0L841.2,228.0L844.2,225.0L847.2,225.0L850.2,225.0L853.2,225.0L856.2,225.0L859.2,225.0L862.2,225.0L865.2,225.0L868.2,225.0L871.2,225.0L874.2,225.0L877.2,225.0L880.2,222.0L883.2,222.0L886.2,225.0L889.2,225.0L892.2,222.0L895.2,222.0L898.2,222.0L901.2,222.0L904.2,222.0L907.2,222.0L910.2,222.0L913.2,222.0L916.2,222.0L919.2,222.0L922.2,219.0L925.2,219.0L928.2,219.0L931.2,222.0L934.2,222.0L937.2,219.0L940.2,219.0L943.2,219.0L946.2,219.0L949.2,219.0L952.2,219.0L955.2,219.0L958.2,219.0L961.2,219.0L964.2,216.0L967.2,216.0L970.2,216.0L973.2,216.0L976.2,216.0L979.2,216.0L982.2,216.0L985.2,216.0L988.2,216.0L991.2,216.0L994.2,216.0L997.2,213.0L1000.2,213.0L1003.2,213.0L1006.2,216.0L1009.2,216.0L1012.2,216.0L1015.2,213.0L1018.2,216.0L1021.2,213.0L1024.2,213.0L1027.2,213.0L1030.2,213.0L1033.2,213.0L1036.2,213.0L1039.2,213.0L1042.2,210.0L1045.2,207.0L1048.2,210.0L1051.2,213.0L1054.2,213.0L1057.2,210.0L1060.2,210.0L1063.2,210.0L1066.2,210.0L1069.2,210.0L1072.2,210.0L1075.2,210.0L1078.2,210.0L1081.2,210.0L1084.2,210.0L1087.2,210.0L1090.2,210.0L1093.2,210.0L1096.2,210.0L1099.2,210.0L1102.2,207.0L1105.2,207.0L1108.2,207.0L1111.2,207.0L1114.2,207.0L1117.2,207.0L1120.2,210.0L1123.2,207.0L1126.2,207.0L1129.2,207.0L1132.2,207.0L1135.2,207.0L1138.2,207.0L1141.2,207.0L1144.2,207.0L1147.2,207.0L1150.2,210.0L1153.2,207.0L1156.2,204.0L1159.2,204.0L1162.2,207.0L1165.2,204.0L1168.2,204.0L1171.2,207.0L1174.2,207.0L1177.2,204.0L1180.2,204.0L1183.2,204.0L1186.2,204.0L1189.2,204.0L1192.2,204.0L1195.2,204.0L1198.2,204.0L1201.2,204.0L1204.2,204.0L1207.2,204.0L1210.2,204.0L1213.2,204.0L1216.2,204.0L1219.2,204.0L1222.2,204.0L1225.2,201.0L1228.2,201.0L1231.2,201.0L1234.2,201.0L1237.2,201.0L1240.2,201.0L1243.2,201.0L1246.2,201.0L1249.2,201.0L1252.2,201.0L1255.2,201.0L1258.2,201.0L1261.2,201.0L1264.2,201.0L1267.2,201.0L1270.2,201.0L1273.2,201.0L1276.2,198.0L1279.2,201.0L1282.2,201.0L1285.2,201.0L1288.2,198.0L1291.2,198.0L1294.2,198.0L1297.2,198.0L1300.2,198.0L1303.2,198.0L1306.2,201.0L1309.2,198.0L1312.2,198.0L1315.2,198.0L1318.2,198.0L1321.2,198.0L1324.2,198.0L1327.2,195.0L1330.2,195.0L1333.2,198.0L1336.2,198.0L1339.2,198.0L1342.2,198.0L1345.2,198.0L1348.2,198.0L1351.2,198.0L1354.2,198.0L1357.2,198.0L1360.2,198.0L1363.2,195.0L1366.2,195.0L1369.2,198.0L1372.2,195.0L1375.2,195.0L1378.2,195.0L1381.2,195.0L1384.2,195.0L1387.2,195.0L1390.2,195.0L1393.2,195.0L1396.2,195.0L1399.2,195.0L1402.2,195.0L1405.2,195.0L1408.2,195.0L1411.2,195.0L1414.2,195.0L1417.2,195.0L1420.2,195.0L1423.2,195.0L1426.2,195.0L1429.2,195.0L1432.2,195.0L1435.2,195.0L1438.2,195.0L1441.2,192.0L1444.2,192.0L1447.2,195.0L1450.2,195.0L1453.2,192.0L1456.2,192.0L1459.2,192.0L1462.2,195.0L1465.2,195.0L1468.2,192.0L1471.2,192.0L1474.2,192.0L1477.2,195.0L1480.2,192.0L1483.2,192.0L1486.2,192.0L1489.2,195.0L1492.2,192.0L1495.2,192.0L1498.2,192.0L1501.2,192.0L1504.2,192.0L1507.2,195.0L1510.2,195.0L1513.2,192.0L1516.2,192.0L1519.2,192.0L1522.2,192.0L1525.2,192.0L1528.2,192.0L1531.2,192.0L1534.2,192.0L1537.2,192.0L1540.2,192.0L1543.2,192.0L1546.2,192.0L1549.2,192.0L1552.2,192.0L1555.2,189.0L1558.2,192.0L1561.2,192.0L1564.2,192.0L1567.2,189.0L1570.2,189.0L1573.2,192.0L1576.2,192.0L1579.2,192.0L1582.2,189.0L1585.2,189.0L1588.2,189.0L1591.2,189.0L1594.2,192.0L1597.2,189.0L1600.2,189.0L1603.2,189.0L1606.2,189.0L1609.2,189.0L1612.2,189.0L1615.2,192.0L1618.2,192.0L1621.2,189.0L1624.2,189.0L1627.2,189.0L1630.2,189.0L1633.2,189.0L1636.2,189.0L1639.2,186.0L1642.2,186.0L1645.2,186.0L1648.2,189.0L1651.2,189.0L1654.2,189.0L1657.2,189.0L1660.2,189.0L1663.2,189.0L1666.2,189.0L1669.2,189.0L1672.2,189.0L1675.2,189.0L1678.2,189.0L1681.2,189.0L1684.2,189.0L1687.2,189.0L1690.2,189.0L1693.2,189.0L1696.2,189.0L1699.2,189.0L1702.2,189.0L1705.2,189.0L1708.2,189.0L1711.2,189.0L1714.2,189.0L1717.2,186.0L1720.2,186.0L1723.2,189.0L1726.2,189.0L1729.2,189.0L1732.2,186.0L1735.2,186.0L1738.2,189.0L1741.2,189.0L1744.2,186.0L1747.2,189.0L1750.2,189.0L1753.2,189.0L1756.2,189.0L1759.2,186.0L1762.2,186.0L1765.2,189.0L1768.2,186.0L1771.2,186.0L1774.2,186.0L1777.2,189.0L1780.2,189.0L1783.2,189.0L1786.2,189.0L1789.2,189.0L1792.2,189.0L1795.2,189.0L1798.2,189.0L1801.2,186.0L1804.2,186.0L1807.2,186.0L1810.2,186.0L1813.2,186.0L1816.2,186.0L1819.2,183.0L1822.2,186.0L1825.2,186.0L1828.2,186.0L1831.2,186.0L1834.2,186.0L1837.2,189.0L1840.2,186.0L1843.2,186.0L1846.2,186.0L1849.2,186.0L1852.2,186.0L1855.2,186.0L1858.2,186.0L1861.2,186.0L1864.2,186.0L1867.2,186.0L1870.2,186.0L1873.2,186.0L1876.2,186.0L1879.2,186.0L1882.2,186.0L1885.2,189.0L1888.2,186.0L1891.2,186.0L1894.2,186.0L1897.2,186.0L1900.2,186.0L1903.2,186.0L1906.2,186.0L1909.2,186.0L1912.2,186.0L1915.2,186.0L1918.2,186.0L1921.2,186.0L1924.2,186.0L1927.2,186.0L1930.2,186.0L1933.2,186.0L1936.2,186.0L1939.2,186.0L1942.2,186.0L1945.2,186.0L1948.2,186.0L1951.2,186.0L1954.2,186.0L1957.2,186.0L1960.2,186.0L1963.2,186.0L1966.2,186.0L1969.2,186.0L1972.2,186.0L1975.2,186.0L1978.2,186.0L1981.2,186.0L1984.2,186.0L1987.2,186.0L1990.2,186.0L1993.2,186.0L1996.2,186.0L1999.2,183.0L2002.2,186.0L2006.0,186.0" fill="none" stroke="#0A97C3" stroke-width="8.6" stroke-linejoin="round" stroke-linecap="butt"/>
<path d="M403.2,291.8L406.2,291.0L409.2,291.0L412.2,291.0L415.2,288.0L418.2,288.0L421.2,291.0L424.2,291.0L427.2,288.0L430.2,288.0L433.2,288.0L436.2,288.0L439.2,288.0L442.2,285.0L445.2,288.0L448.2,285.0L451.2,285.0L454.2,285.0L457.2,285.0L460.2,285.0L463.2,285.0L466.2,285.0L469.2,288.0L472.2,285.0L475.2,282.0L478.2,282.0L481.2,282.0L484.2,279.0L487.2,279.0L490.2,279.0L493.2,279.0L496.2,279.0L499.2,279.0L502.2,279.0L505.2,279.0L508.2,279.0L511.2,279.0L514.2,279.0L517.2,276.0L520.2,276.0L523.2,276.0L526.2,276.0L529.2,276.0L532.2,276.0L535.2,273.0L538.2,273.0L541.2,276.0L544.2,273.0L547.2,273.0L550.2,273.0L553.2,273.0L556.2,273.0L559.2,273.0L562.2,270.0L565.2,270.0L568.2,270.0L571.2,267.0L574.2,267.0L577.2,270.0L580.2,270.0L583.2,270.0L586.2,270.0L589.2,270.0L592.2,270.0L595.2,270.0L598.2,270.0L601.2,267.0L604.2,267.0L607.2,267.0L610.2,264.0L613.2,267.0L616.2,264.0L619.2,264.0L622.2,267.0L625.2,267.0L628.2,267.0L631.2,264.0L634.2,264.0L637.2,264.0L640.2,264.0L643.2,261.0L646.2,264.0L649.2,261.0L652.2,261.0L655.2,261.0L658.2,261.0L661.2,261.0L664.2,261.0L667.2,258.0L670.2,258.0L673.2,258.0L676.2,258.0L679.2,258.0L682.2,258.0L685.2,258.0L688.2,258.0L691.2,258.0L694.2,258.0L697.2,258.0L700.2,255.0L703.2,255.0L706.2,255.0L709.2,255.0L712.2,255.0L715.2,252.0L718.2,252.0L721.2,255.0L724.2,255.0L727.2,255.0L730.2,255.0L733.2,255.0L736.2,252.0L739.2,252.0L742.2,252.0L745.2,252.0L748.2,252.0L751.2,252.0L754.2,249.0L757.2,249.0L760.2,249.0L763.2,249.0L766.2,249.0L769.2,249.0L772.2,249.0L775.2,249.0L778.2,249.0L781.2,249.0L784.2,249.0L787.2,249.0L790.2,249.0L793.2,246.0L796.2,246.0L799.2,246.0L802.2,246.0L805.2,246.0L808.2,246.0L811.2,246.0L814.2,246.0L817.2,246.0L820.2,246.0L823.2,246.0L826.2,246.0L829.2,246.0L832.2,246.0L835.2,243.0L838.2,243.0L841.2,243.0L844.2,243.0L847.2,243.0L850.2,243.0L853.2,243.0L856.2,243.0L859.2,243.0L862.2,243.0L865.2,243.0L868.2,243.0L871.2,240.0L874.2,240.0L877.2,240.0L880.2,240.0L883.2,240.0L886.2,240.0L889.2,240.0L892.2,237.0L895.2,240.0L898.2,240.0L901.2,237.0L904.2,237.0L907.2,237.0L910.2,237.0L913.2,237.0L916.2,237.0L919.2,237.0L922.2,240.0L925.2,237.0L928.2,237.0L931.2,237.0L934.2,237.0L937.2,237.0L940.2,234.0L943.2,237.0L946.2,234.0L949.2,234.0L952.2,234.0L955.2,234.0L958.2,234.0L961.2,234.0L964.2,234.0L967.2,234.0L970.2,234.0L973.2,234.0L976.2,231.0L979.2,231.0L982.2,234.0L985.2,234.0L988.2,231.0L991.2,231.0L994.2,231.0L997.2,231.0L1000.2,231.0L1003.2,231.0L1006.2,231.0L1009.2,231.0L1012.2,231.0L1015.2,231.0L1018.2,231.0L1021.2,231.0L1024.2,231.0L1027.2,228.0L1030.2,228.0L1033.2,228.0L1036.2,228.0L1039.2,228.0L1042.2,228.0L1045.2,228.0L1048.2,228.0L1051.2,228.0L1054.2,231.0L1057.2,231.0L1060.2,231.0L1063.2,228.0L1066.2,228.0L1069.2,225.0L1072.2,228.0L1075.2,228.0L1078.2,225.0L1081.2,228.0L1084.2,228.0L1087.2,225.0L1090.2,225.0L1093.2,225.0L1096.2,225.0L1099.2,225.0L1102.2,225.0L1105.2,225.0L1108.2,225.0L1111.2,225.0L1114.2,225.0L1117.2,225.0L1120.2,225.0L1123.2,222.0L1126.2,222.0L1129.2,219.0L1132.2,222.0L1135.2,222.0L1138.2,222.0L1141.2,222.0L1144.2,222.0L1147.2,222.0L1150.2,222.0L1153.2,222.0L1156.2,222.0L1159.2,222.0L1162.2,222.0L1165.2,222.0L1168.2,222.0L1171.2,222.0L1174.2,222.0L1177.2,225.0L1180.2,222.0L1183.2,222.0L1186.2,219.0L1189.2,219.0L1192.2,219.0L1195.2,219.0L1198.2,222.0L1201.2,219.0L1204.2,219.0L1207.2,219.0L1210.2,219.0L1213.2,219.0L1216.2,219.0L1219.2,216.0L1222.2,219.0L1225.2,219.0L1228.2,219.0L1231.2,219.0L1234.2,219.0L1237.2,219.0L1240.2,219.0L1243.2,219.0L1246.2,216.0L1249.2,216.0L1252.2,216.0L1255.2,213.0L1258.2,213.0L1261.2,213.0L1264.2,216.0L1267.2,216.0L1270.2,216.0L1273.2,216.0L1276.2,216.0L1279.2,216.0L1282.2,216.0L1285.2,216.0L1288.2,213.0L1291.2,213.0L1294.2,213.0L1297.2,216.0L1300.2,216.0L1303.2,216.0L1306.2,216.0L1309.2,216.0L1312.2,213.0L1315.2,213.0L1318.2,213.0L1321.2,213.0L1324.2,213.0L1327.2,213.0L1330.2,213.0L1333.2,213.0L1336.2,213.0L1339.2,213.0L1342.2,213.0L1345.2,213.0L1348.2,213.0L1351.2,210.0L1354.2,210.0L1357.2,213.0L1360.2,213.0L1363.2,210.0L1366.2,213.0L1369.2,210.0L1372.2,210.0L1375.2,210.0L1378.2,210.0L1381.2,210.0L1384.2,210.0L1387.2,210.0L1390.2,210.0L1393.2,210.0L1396.2,210.0L1399.2,210.0L1402.2,210.0L1405.2,210.0L1408.2,210.0L1411.2,210.0L1414.2,210.0L1417.2,210.0L1420.2,210.0L1423.2,207.0L1426.2,210.0L1429.2,213.0L1432.2,210.0L1435.2,210.0L1438.2,210.0L1441.2,207.0L1444.2,207.0L1447.2,207.0L1450.2,207.0L1453.2,207.0L1456.2,207.0L1459.2,207.0L1462.2,207.0L1465.2,207.0L1468.2,207.0L1471.2,207.0L1474.2,207.0L1477.2,207.0L1480.2,207.0L1483.2,207.0L1486.2,207.0L1489.2,207.0L1492.2,204.0L1495.2,207.0L1498.2,207.0L1501.2,207.0L1504.2,204.0L1507.2,204.0L1510.2,204.0L1513.2,204.0L1516.2,204.0L1519.2,207.0L1522.2,204.0L1525.2,204.0L1528.2,204.0L1531.2,204.0L1534.2,204.0L1537.2,201.0L1540.2,204.0L1543.2,204.0L1546.2,207.0L1549.2,207.0L1552.2,204.0L1555.2,204.0L1558.2,204.0L1561.2,204.0L1564.2,204.0L1567.2,204.0L1570.2,204.0L1573.2,204.0L1576.2,207.0L1579.2,204.0L1582.2,204.0L1585.2,204.0L1588.2,204.0L1591.2,204.0L1594.2,201.0L1597.2,204.0L1600.2,204.0L1603.2,204.0L1606.2,204.0L1609.2,201.0L1612.2,204.0L1615.2,204.0L1618.2,201.0L1621.2,201.0L1624.2,201.0L1627.2,201.0L1630.2,201.0L1633.2,201.0L1636.2,201.0L1639.2,201.0L1642.2,201.0L1645.2,201.0L1648.2,201.0L1651.2,201.0L1654.2,201.0L1657.2,201.0L1660.2,201.0L1663.2,201.0L1666.2,201.0L1669.2,201.0L1672.2,201.0L1675.2,201.0L1678.2,201.0L1681.2,201.0L1684.2,201.0L1687.2,201.0L1690.2,201.0L1693.2,201.0L1696.2,201.0L1699.2,201.0L1702.2,201.0L1705.2,201.0L1708.2,201.0L1711.2,198.0L1714.2,201.0L1717.2,201.0L1720.2,198.0L1723.2,201.0L1726.2,201.0L1729.2,201.0L1732.2,201.0L1735.2,204.0L1738.2,198.0L1741.2,198.0L1744.2,198.0L1747.2,198.0L1750.2,198.0L1753.2,201.0L1756.2,198.0L1759.2,198.0L1762.2,198.0L1765.2,198.0L1768.2,198.0L1771.2,198.0L1774.2,198.0L1777.2,198.0L1780.2,198.0L1783.2,198.0L1786.2,198.0L1789.2,198.0L1792.2,198.0L1795.2,198.0L1798.2,198.0L1801.2,198.0L1804.2,198.0L1807.2,198.0L1810.2,198.0L1813.2,198.0L1816.2,198.0L1819.2,198.0L1822.2,198.0L1825.2,198.0L1828.2,198.0L1831.2,198.0L1834.2,198.0L1837.2,198.0L1840.2,198.0L1843.2,198.0L1846.2,198.0L1849.2,195.0L1852.2,192.0L1855.2,195.0L1858.2,195.0L1861.2,198.0L1864.2,198.0L1867.2,198.0L1870.2,198.0L1873.2,195.0L1876.2,195.0L1879.2,195.0L1882.2,195.0L1885.2,198.0L1888.2,198.0L1891.2,195.0L1894.2,195.0L1897.2,198.0L1900.2,198.0L1903.2,195.0L1906.2,195.0L1909.2,195.0L1912.2,195.0L1915.2,195.0L1918.2,198.0L1921.2,198.0L1924.2,198.0L1927.2,198.0L1930.2,198.0L1933.2,198.0L1936.2,195.0L1939.2,198.0L1942.2,198.0L1945.2,198.0L1948.2,198.0L1951.2,198.0L1954.2,198.0L1957.2,195.0L1960.2,195.0L1963.2,195.0L1966.2,195.0L1969.2,195.0L1972.2,195.0L1975.2,195.0L1978.2,195.0L1981.2,195.0L1984.2,195.0L1987.2,195.0L1990.2,195.0L1993.2,195.0L1996.2,195.0L1999.2,195.0L2002.2,195.0L2006.0,195.0" fill="none" stroke="#FA7307" stroke-width="8.6" stroke-linejoin="round" stroke-linecap="butt"/>
<g stroke="#000" stroke-width="5.5" fill="none" stroke-linejoin="round" stroke-linecap="butt">
<path d="M376.2,110.5 H403.2 V1648.0 H2004.4 V1674.5"/>
<path d="M376.2,330.1 H403.2"/>
<path d="M376.2,549.8 H403.2"/>
<path d="M376.2,769.4 H403.2"/>
<path d="M376.2,989.1 H403.2"/>
<path d="M376.2,1208.7 H403.2"/>
<path d="M376.2,1428.4 H403.2"/>
<path d="M376.2,1648.0 H403.2"/>
<path d="M403.2,1648.0 V1674.5"/>
<path d="M803.5,1648.0 V1674.5"/>
<path d="M1203.8,1648.0 V1674.5"/>
<path d="M1604.1,1648.0 V1674.5"/>
</g>
<g stroke="#000" stroke-width="5" stroke-linecap="round">
<line x1="507.7" y1="211.1" x2="609.5" y2="141.4"/>
<line x1="642.7" y1="232.4" x2="983.8" y2="443.9"/>
<line x1="571.0" y1="247.9" x2="827.0" y2="459.0"/>
<line x1="439.0" y1="293.8" x2="657.1" y2="532.1"/>
<line x1="438.7" y1="446.1" x2="657.5" y2="682.6"/>
<line x1="666.7" y1="925.1" x2="815.7" y2="1019.6"/>
</g>
<g font-family="Carlito, 'Liberation Sans', sans-serif" font-size="84" fill="#000" text-anchor="end">
<text x="326" y="135.5">100</text>
<text x="326" y="355.1">95</text>
<text x="326" y="574.8">90</text>
<text x="326" y="794.4">85</text>
<text x="326" y="1014.1">80</text>
<text x="326" y="1233.7">75</text>
<text x="326" y="1453.4">70</text>
<text x="326" y="1673.0">65</text>
</g>
<g font-family="Carlito, 'Liberation Sans', sans-serif" font-size="84" fill="#000" text-anchor="middle">
<text x="403.2" y="1780.5">400</text>
<text x="803.5" y="1780.5">500</text>
<text x="1203.8" y="1780.5">600</text>
<text x="1604.1" y="1780.5">700</text>
<text x="2004.4" y="1780.5">800</text>
</g>
<text x="1204" y="1910.5" font-family="Carlito, 'Liberation Sans', sans-serif" font-size="99" font-weight="bold" text-anchor="middle" letter-spacing="0.55">Wavelength (nm)</text>
<text transform="translate(160.3,877.6) rotate(-90)" font-family="Carlito, 'Liberation Sans', sans-serif" font-size="99" font-weight="bold" text-anchor="middle" letter-spacing="0.42">Transmission (%)</text>
<g font-family="'Liberation Sans', Arial, sans-serif" font-size="68" fill="#000" text-anchor="middle">
<text x="658.4" y="148.6">(d)</text>
<text x="1053.2" y="474.1" letter-spacing="2">(c)</text>
<text x="874.2" y="514.7">(e)</text>
<text x="705.5" y="570.2">(f)</text>
<text x="711.8" y="720.6">(b)</text>
<text x="621.0" y="939.4">(a)</text>
</g>
</svg>
</body></html>
